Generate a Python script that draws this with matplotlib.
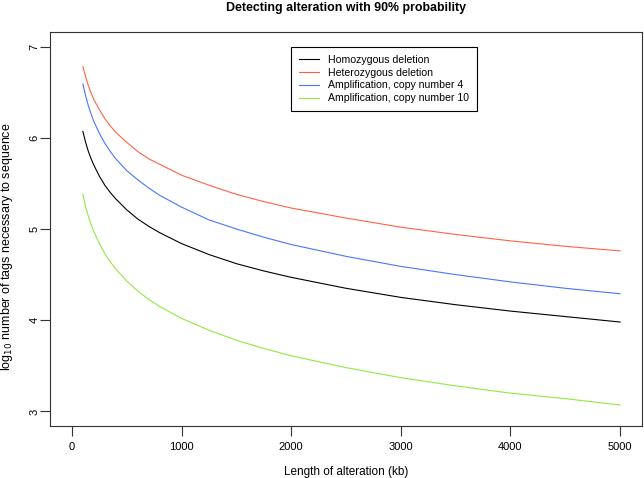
import matplotlib
matplotlib.use("Agg")
import matplotlib.pyplot as plt

# alteration length (kb) and log10 tags needed
length_kb = [100, 125, 150, 175, 200, 250, 300, 350, 400, 500, 600, 700, 800,
             1000, 1250, 1500, 1750, 2000, 2500, 3000, 3500, 4000, 4500, 5000]
homozygous = [6.07, 5.95, 5.85, 5.77, 5.70, 5.58, 5.48, 5.40, 5.33, 5.21, 5.11,
              5.03, 4.96, 4.84, 4.72, 4.62, 4.54, 4.47, 4.35, 4.25, 4.17, 4.10,
              4.04, 3.98]
heterozygous = [6.78, 6.67, 6.57, 6.49, 6.42, 6.31, 6.21, 6.13, 6.06, 5.95, 5.85,
                5.77, 5.71, 5.59, 5.48, 5.38, 5.30, 5.23, 5.12, 5.02, 4.94, 4.87,
                4.81, 4.76]
amp_cn4 = [6.59, 6.46, 6.35, 6.26, 6.18, 6.05, 5.94, 5.85, 5.77, 5.64, 5.54,
           5.45, 5.37, 5.24, 5.10, 5.00, 4.91, 4.83, 4.70, 4.59, 4.50, 4.42,
           4.35, 4.29]
amp_cn10 = [5.38, 5.24, 5.14, 5.05, 4.97, 4.84, 4.73, 4.64, 4.56, 4.43, 4.32,
            4.23, 4.15, 4.02, 3.89, 3.78, 3.69, 3.61, 3.48, 3.37, 3.28, 3.20,
            3.14, 3.07]

series = [("Homozygous deletion", homozygous, "black"),
          ("Heterozygous deletion", heterozygous, "#FF6347"),
          ("Amplification, copy number 4", amp_cn4, "#4876FF"),
          ("Amplification, copy number 10", amp_cn10, "#8FEA45")]

plt.rcParams['font.family'] = ['Liberation Sans', 'DejaVu Sans']

fig = plt.figure(figsize=(6.44, 4.78), dpi=100)
ax = fig.add_axes([50 / 644, 1 - 426 / 478, 592 / 644, 394 / 478])

for name, vals, col in series:
    ax.plot(length_kb, vals, color=col, lw=0.8, label=name,
            solid_joinstyle='round')

ax.set_xlim(-200, 5200)
ax.set_ylim(2.84, 7.16)
ax.set_xticks([0, 1000, 2000, 3000, 4000, 5000])
ax.set_yticks([3, 4, 5, 6, 7])
ax.tick_params(direction='out', length=7, width=0.8, color='#333333',
               labelsize=8)
ax.tick_params(axis='x', pad=4.5)
ax.tick_params(axis='y', pad=0.5)
for lab in ax.get_yticklabels():
    lab.set_rotation(90)
    lab.set_va('center')
for sp in ax.spines.values():
    sp.set_linewidth(0.8)
    sp.set_color('#333333')

ax.set_xlabel("Length of alteration (kb)", fontsize=8.5)
ax.xaxis.set_label_coords(0.5, -0.101)
ax.set_ylabel("log$_{10}$ number of tags necessary to sequence", fontsize=9)
ax.yaxis.set_label_coords(-0.059, 0.454)
ax.set_title("Detecting alteration with 90% probability", fontsize=8.9,
             fontweight='bold', pad=15)

leg = ax.legend(loc='upper left', bbox_to_anchor=(0.407, 0.962), borderaxespad=0,
                fontsize=7.6, fancybox=False, framealpha=1, edgecolor='black',
                handlelength=1.9, handletextpad=0.9, labelspacing=0.28,
                borderpad=0.72)
leg.get_frame().set_linewidth(0.8)

fig.savefig("out.png", dpi=100)
